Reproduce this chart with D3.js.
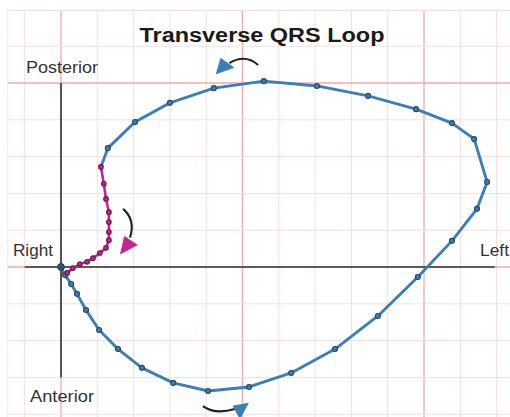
<!DOCTYPE html>
<html><head><meta charset="utf-8">
<script src="https://cdn.jsdelivr.net/npm/d3@7"></script>
<style>html,body{margin:0;padding:0;background:#fff;}svg{display:block;}</style>
</head><body>
<svg id="chart" width="510" height="417"></svg>
<script>
// Data (grid units: 1 unit = 1 grid cell, origin at axis crossing)
const blueX = [0,0.11,0.28,0.44,0.69,1.05,1.57,2.23,3.09,4.05,5.18,6.34,7.55,8.73,9.83,10.77,11.46,11.74,11.38,10.77,9.78,8.46,7.05,5.59,4.21,3.00,2.04,1.29,1.10];
const blueY = [0,-0.22,-0.46,-0.73,-1.17,-1.71,-2.23,-2.74,-3.15,-3.37,-3.26,-2.88,-2.23,-1.33,-0.27,0.71,1.58,2.31,3.48,3.91,4.29,4.65,4.92,5.05,4.86,4.46,3.94,3.23,2.72];
const magX = [1.10,1.18,1.24,1.32,1.32,1.32,1.32,1.24,1.07,0.88,0.72,0.52,0.33,0.17];
const magY = [2.72,2.26,1.85,1.49,1.22,0.95,0.73,0.52,0.38,0.24,0.14,0.08,-0.03,-0.16];
const gridX = d3.range(-1, 13);
const gridY = d3.range(-4, 8);
const majorX = [0,5,10];
const majorY = [0,5];
const labels = ["Posterior","Right","Left","Anterior"];
const title = "Transverse QRS Loop";
// direction arrows: arc [start, control, end] and head triangle, in grid units
const arrowArcs = [
  {arc:[[5.43,5.49],[5.07,5.80],[4.64,5.54]], head:[[4.28,5.25],[4.40,5.67],[4.76,5.42]], color:"#3a7fb5"},
  {arc:[[3.91,-3.78],[4.24,-4.02],[4.79,-3.86]], head:[[5.16,-3.70],[4.74,-3.78],[4.93,-4.12]], color:"#3a7fb5"},
  {arc:[[1.71,1.58],[2.06,1.28],[1.90,0.80]], head:[[1.64,0.36],[1.75,0.83],[2.10,0.60]], color:"#c0268f"}
];

const svg = d3.select("#chart");
const x = d3.scaleLinear().domain([0,10]).range([61,424]);
const y = d3.scaleLinear().domain([0,5]).range([267,83]);
const X0 = x(-1.48), X1 = 510, Y0 = 10, Y1 = 417;

svg.append("defs").append("clipPath").attr("id","gc")
  .append("rect").attr("x",X0).attr("y",Y0).attr("width",X1-X0).attr("height",Y1-Y0);
const grid = svg.append("g").attr("clip-path","url(#gc)");
grid.selectAll(".gx").data(gridX).join("line")
  .attr("x1",d=>x(d)).attr("x2",d=>x(d)).attr("y1",Y0).attr("y2",Y1)
  .attr("stroke",d=>majorX.includes(d)?"#f2a9ad":"#f8dcdc").attr("stroke-width",d=>majorX.includes(d)?1.3:1);
grid.selectAll(".gy").data(gridY).join("line")
  .attr("y1",d=>y(d)).attr("y2",d=>y(d)).attr("x1",X0).attr("x2",X1)
  .attr("stroke",d=>majorY.includes(d)?"#f2a9ad":"#f8dcdc").attr("stroke-width",d=>majorY.includes(d)?1.3:1);
grid.append("line").attr("x1",X0+0.5).attr("x2",X0+0.5).attr("y1",Y0).attr("y2",Y1).attr("stroke","#f8dcdc");
grid.append("line").attr("x1",X0).attr("x2",X1).attr("y1",Y0+0.5).attr("y2",Y0+0.5).attr("stroke","#f8dcdc");

// axes
svg.append("line").attr("x1",x(-1)).attr("x2",x(11.95)).attr("y1",y(0)).attr("y2",y(0)).attr("stroke","#333").attr("stroke-width",1.6);
svg.append("line").attr("x1",x(0)).attr("x2",x(0)).attr("y1",y(5)).attr("y2",y(-3)).attr("stroke","#333").attr("stroke-width",1.6);

// title & labels
svg.append("text").attr("x",262).attr("y",42).attr("text-anchor","middle")
  .attr("font-family","Liberation Sans, Arial, sans-serif").attr("font-weight","bold").attr("font-size",20)
  .attr("textLength",245).attr("lengthAdjust","spacingAndGlyphs").attr("fill","#1a1a1a").text(title);
const lab = [
  {t:labels[0], x:26, y:73, w:72},
  {t:labels[1], x:13, y:256, w:40},
  {t:labels[2], x:480, y:256, w:29},
  {t:labels[3], x:30, y:402, w:64}
];
svg.selectAll(".lab").data(lab).join("text")
  .attr("x",d=>d.x).attr("y",d=>d.y).attr("font-family","Liberation Sans, Arial, sans-serif")
  .attr("font-size",16.5).attr("fill","#333").attr("textLength",d=>d.w).attr("lengthAdjust","spacingAndGlyphs")
  .text(d=>d.t);

// loops
const line = d3.line().x(d=>x(d[0])).y(d=>y(d[1]));
const blue = blueX.map((v,i)=>[v,blueY[i]]);
const mag = magX.map((v,i)=>[v,magY[i]]);
svg.append("path").attr("d",line(blue)).attr("fill","none").attr("stroke","#3a7fb5").attr("stroke-width",2.9).attr("stroke-linejoin","round");
svg.append("path").attr("d",line(mag)).attr("fill","none").attr("stroke","#c0268f").attr("stroke-width",2.6).attr("stroke-linejoin","round");
svg.selectAll(".bp").data(blue.slice(1,-1)).join("circle")
  .attr("cx",d=>x(d[0])).attr("cy",d=>y(d[1])).attr("r",2.5)
  .attr("fill","#3d7fb2").attr("stroke","#28475f").attr("stroke-width",1.1);
svg.selectAll(".mp").data(mag).join("circle")
  .attr("cx",d=>x(d[0])).attr("cy",d=>y(d[1])).attr("r",2.3)
  .attr("fill","#c0268f").attr("stroke","#6e1650").attr("stroke-width",1.1);
svg.append("circle").attr("cx",x(0)).attr("cy",y(0)).attr("r",3.4).attr("fill","#2f5573").attr("stroke","#1f3a50");

// direction arrows
arrowArcs.forEach(a=>{
  const p = d3.path();
  p.moveTo(x(a.arc[0][0]),y(a.arc[0][1]));
  p.quadraticCurveTo(x(a.arc[1][0]),y(a.arc[1][1]),x(a.arc[2][0]),y(a.arc[2][1]));
  svg.append("path").attr("d",p.toString()).attr("fill","none").attr("stroke","#222").attr("stroke-width",2.1);
  svg.append("path").attr("d",line(a.head)+"Z").attr("fill",a.color).attr("stroke",a.color).attr("stroke-width",0.8).attr("stroke-linejoin","round");
});
</script>
</body></html>
